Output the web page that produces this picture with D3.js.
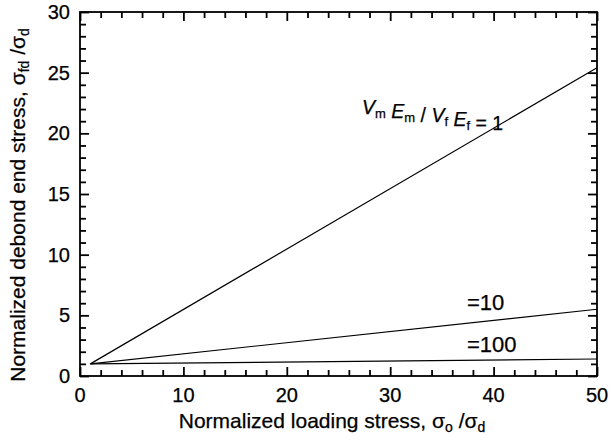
<!DOCTYPE html>
<html>
<head>
<meta charset="utf-8">
<script src="https://cdn.jsdelivr.net/npm/d3@7"></script>
<style>
  body { margin: 0; background: #fff; }
  text { font-family: "Liberation Sans", Arial, sans-serif; fill: #000; stroke: #000; stroke-width: 0.25; }
</style>
</head>
<body>
<div id="chart"></div>
<script>
// debond end stress vs loading stress, three modulus ratios

const svgWidth = 609;
const svgHeight = 443;

const margin = { top: 12, right: 12, bottom: 67, left: 80 };
const width = svgWidth - margin.left - margin.right;
const height = svgHeight - margin.top - margin.bottom;

// data
const ratios = ["1", "10", "100"];
const loading = [1, 50];
const debond1 = [1, 25.4];
const debond10 = [1, 5.5];
const debond100 = [1, 1.4];

const xMajor = [0, 10, 20, 30, 40, 50];
const yMajor = [0, 5, 10, 15, 20, 25, 30];

const svg = d3.select("#chart")
    .append("svg")
    .attr("width", svgWidth)
    .attr("height", svgHeight);

const chartGroup = svg.append("g")
    .attr("transform", `translate(${margin.left}, ${margin.top})`);

const xScale = d3.scaleLinear().domain([0, 50]).range([0, width]);
const yScale = d3.scaleLinear().domain([0, 30]).range([height, 0]);

const xMinor = d3.range(0, 51, 2).filter(d => d % 10 !== 0);
const yMinor = d3.range(0, 31, 1).filter(d => d % 5 !== 0);

// inward ticks on all four sides
function addAxis(axisFn, values, size, transform) {
    const scale = (axisFn === d3.axisBottom || axisFn === d3.axisTop) ? xScale : yScale;
    const g = chartGroup.append("g")
        .attr("transform", transform)
        .call(axisFn(scale).tickValues(values).tickSize(-size).tickFormat(""));
    g.select(".domain").remove();
    g.selectAll(".tick line")
        .attr("stroke", "#000")
        .attr("stroke-width", 1.8);
}
addAxis(d3.axisBottom, xMajor, 9, `translate(0, ${height})`);
addAxis(d3.axisBottom, xMinor, 6, `translate(0, ${height})`);
addAxis(d3.axisTop, xMajor, 9, "translate(0, 0)");
addAxis(d3.axisTop, xMinor, 6, "translate(0, 0)");
addAxis(d3.axisLeft, yMajor, 9, "translate(0, 0)");
addAxis(d3.axisLeft, yMinor, 6, "translate(0, 0)");
addAxis(d3.axisRight, yMajor, 9, `translate(${width}, 0)`);
addAxis(d3.axisRight, yMinor, 6, `translate(${width}, 0)`);

// frame
chartGroup.append("rect")
    .attr("width", width)
    .attr("height", height)
    .attr("fill", "none")
    .attr("stroke", "#000")
    .attr("stroke-width", 1.8);

// tick labels
chartGroup.selectAll(".xlab")
    .data(xMajor)
    .enter()
    .append("text")
    .attr("x", d => xScale(d))
    .attr("y", height + 26)
    .attr("text-anchor", "middle")
    .attr("font-size", 20)
    .text(d => d);

chartGroup.selectAll(".ylab")
    .data(yMajor)
    .enter()
    .append("text")
    .attr("x", -10)
    .attr("y", d => yScale(d) + 7)
    .attr("text-anchor", "end")
    .attr("font-size", 20)
    .text(d => d);

// lines
const line = d3.line()
    .x(d => xScale(d[0]))
    .y(d => yScale(d[1]));

[debond1, debond10, debond100].forEach(function(series) {
    chartGroup.append("path")
        .datum(loading.map((x, i) => [x, series[i]]))
        .attr("d", line)
        .attr("fill", "none")
        .attr("stroke", "#000")
        .attr("stroke-width", 1.2);
});

// annotations
function sub(t, s) {
    t.append("tspan").attr("font-size", 13).attr("dy", 4).text(s);
    t.append("tspan").attr("dy", -4).text("");
}
const ann1 = svg.append("text")
    .attr("x", 362)
    .attr("y", 114)
    .attr("font-size", 19.5);
ann1.append("tspan").attr("font-style", "italic").text("V");
sub(ann1, "m");
ann1.append("tspan").attr("font-style", "italic").text(" E");
sub(ann1, "m");
ann1.append("tspan").text(" / ");
ann1.append("tspan").attr("font-style", "italic").text("V");
sub(ann1, "f");
ann1.append("tspan").attr("font-style", "italic").text(" E");
sub(ann1, "f");
ann1.append("tspan").text(" = " + ratios[0]);

svg.append("text")
    .attr("x", 467)
    .attr("y", 310)
    .attr("font-size", 22)
    .text("=" + ratios[1]);

svg.append("text")
    .attr("x", 467)
    .attr("y", 352)
    .attr("font-size", 22)
    .text("=" + ratios[2]);

// axis titles
const xTitle = svg.append("text")
    .attr("x", 332)
    .attr("y", 428)
    .attr("text-anchor", "middle")
    .attr("font-size", 21);
xTitle.append("tspan").text("Normalized loading stress, σ");
xTitle.append("tspan").attr("font-size", 14).attr("dy", 4).text("o");
xTitle.append("tspan").attr("dy", -4).text(" /σ");
xTitle.append("tspan").attr("font-size", 14).attr("dy", 4).text("d");

const yTitle = svg.append("text")
    .attr("transform", "translate(25, 205) rotate(-90)")
    .attr("text-anchor", "middle")
    .attr("font-size", 21);
yTitle.append("tspan").text("Normalized debond end stress, σ");
yTitle.append("tspan").attr("font-size", 14).attr("dy", 4).text("fd");
yTitle.append("tspan").attr("dy", -4).text(" /σ");
yTitle.append("tspan").attr("font-size", 14).attr("dy", 4).text("d");
</script>
</body>
</html>
